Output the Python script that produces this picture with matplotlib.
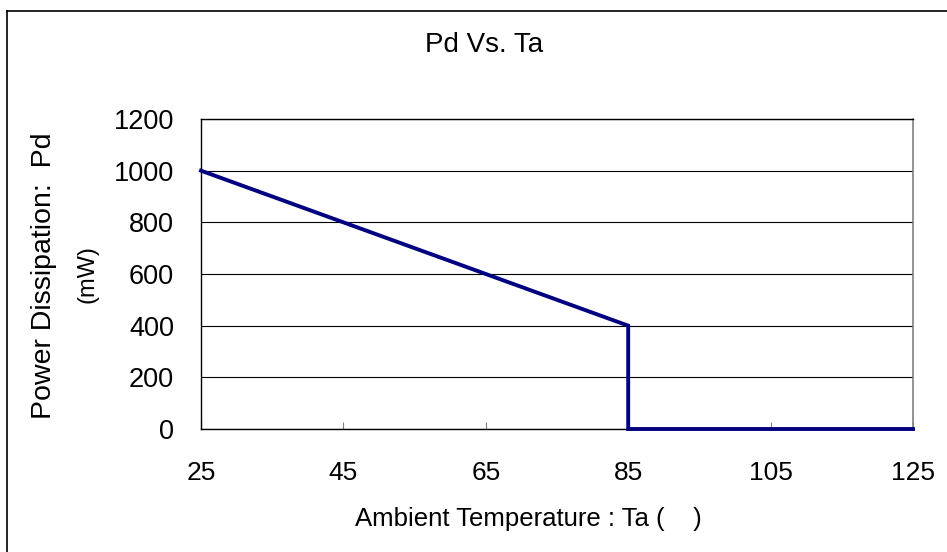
import matplotlib
matplotlib.use("Agg")
from matplotlib import pyplot as plt
from matplotlib.lines import Line2D

plt.rcParams['font.family'] = ['Liberation Sans', 'DejaVu Sans']

# Derating curve: Pd falls linearly to 85 C, then drops to zero.
ta = [25, 85, 85, 125]
pd = [1000, 400, 0, 0]
x_ticks = [25, 45, 65, 85, 105, 125]
y_ticks = [0, 200, 400, 600, 800, 1000, 1200]

W, H = 947, 552
fig = plt.figure(figsize=(W / 100, H / 100), dpi=100)
ax = fig.add_axes([201/W, 1 - 429/H, (913 - 201)/W, (429 - 119)/H])

# Outer chart frame (top and left edges visible)
fig.add_artist(Line2D([7/W, 7/W], [0, 1 - 11/H], transform=fig.transFigure,
                      color='black', lw=1.2))
fig.add_artist(Line2D([7/W, 1], [1 - 11/H, 1 - 11/H], transform=fig.transFigure,
                      color='black', lw=1.2))

ax.plot(ta, pd, color='#000080', lw=2.8, solid_joinstyle='miter', clip_on=False, zorder=3)

ax.set_xlim(25, 125)
ax.set_ylim(0, 1200)
ax.set_xticks(x_ticks)
ax.set_yticks(y_ticks)
ax.yaxis.grid(True, color='black', lw=0.8)
ax.set_axisbelow(True)

ax.tick_params(axis='x', direction='in', length=5, color='gray', labelsize=19, pad=23)
ax.tick_params(axis='y', length=0, labelsize=19.5, pad=19.5)

for side in ['left', 'top', 'bottom']:
    ax.spines[side].set_color('black')
    ax.spines[side].set_linewidth(1.0)
ax.spines['right'].set_color('gray')
ax.spines['right'].set_linewidth(1.2)

fig.text(484/W, 1 - 45/H, 'Pd Vs. Ta', ha='center', va='center', fontsize=20)
fig.text(528/W, 1 - 519/H, 'Ambient Temperature : Ta (    )',
         ha='center', va='center', fontsize=18.5)
fig.text(44/W, 1 - 276/H, 'Power Dissipation:  Pd', rotation=90,
         ha='center', va='center', fontsize=20.5)
fig.text(87/W, 1 - 274/H, '(mW)', rotation=90,
         ha='center', va='center', fontsize=17)

fig.savefig('out.png', dpi=100)
